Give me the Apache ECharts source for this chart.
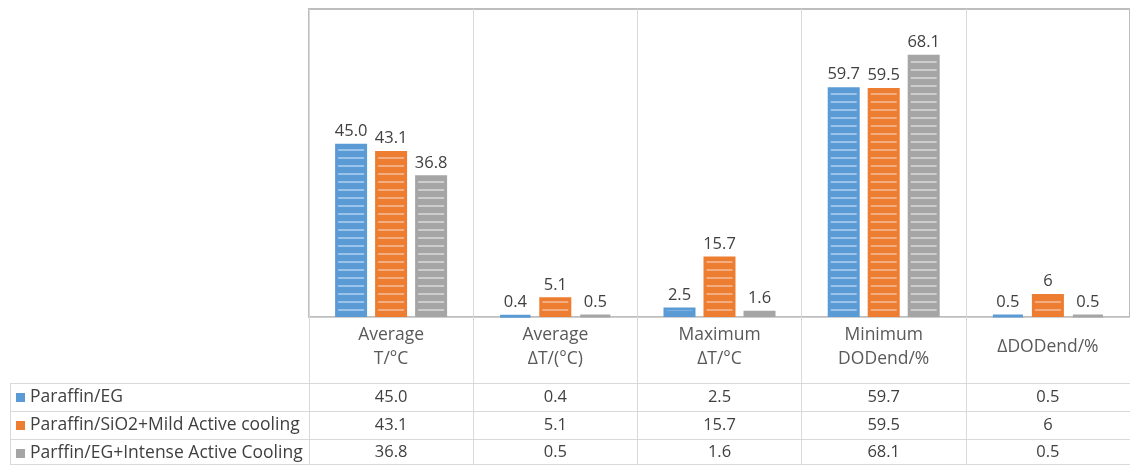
<!DOCTYPE html>
<html>
<head>
<meta charset="utf-8">
<script src="https://cdn.jsdelivr.net/npm/echarts@6/dist/echarts.min.js"></script>
<style>
  html, body { margin: 0; padding: 0; background: #ffffff; }
  #chart { width: 1130px; height: 465px; }
</style>
</head>
<body>
<div id="chart"></div>
<script>
// Categories shown along the axis and as the table header
const categories = ['Average\nT/°C', 'Average\nΔT/(°C)', 'Maximum\nΔT/°C', 'Minimum\nDODend/%', 'ΔDODend/%'];

// Series names (table row headers)
const seriesNames = [
  'Paraffin/EG',
  'Paraffin/SiO2+Mild Active cooling',
  'Parffin/EG+Intense Active Cooling'
];

// Values as printed in the data table
const paraffinEG       = ['45.0', '0.4', '2.5', '59.7', '0.5'];
const paraffinSiO2Mild = ['43.1', '5.1', '15.7', '59.5', '6'];
const parffinEGIntense = ['36.8', '0.5', '1.6', '68.1', '0.5'];

const tableRows = [paraffinEG, paraffinSiO2Mild, parffinEGIntense];
const baseColors   = ['#5B9BD5', '#ED7D31', '#A5A5A5'];
const stripeColors = ['#9CC4EA', '#F4AD80', '#CDCDCD'];

const FONT = '"Open Sans", "Noto Sans", sans-serif';
const WORD_SIZE = 17.5;
const NUM_SIZE = 16.5;

// Horizontal stripe fill used inside the bars
function stripePattern(base, light) {
  const c = document.createElement('canvas');
  c.width = 8; c.height = 8;
  const g = c.getContext('2d');
  g.fillStyle = base;
  g.fillRect(0, 0, 8, 8);
  g.fillStyle = light;
  g.fillRect(0, 5, 8, 2);
  return c;
}

const chart = echarts.init(document.getElementById('chart'), null, { renderer: 'canvas' });

// Table rows are drawn as extra category axes sharing the grid
const rowMargins = [80, 108, 135];
const rowAxes = tableRows.map((row, k) => ({
  type: 'category',
  data: categories,
  position: 'bottom',
  gridIndex: 0,
  axisLine: { show: false },
  axisTick: { show: false },
  splitLine: { show: false },
  axisLabel: {
    interval: 0,
    margin: rowMargins[k],
    verticalAlign: 'middle',
    color: '#404040',
    fontFamily: FONT,
    fontSize: NUM_SIZE,
    formatter: (v, i) => row[i]
  }
}));

const series = tableRows.map((row, k) => ({
  name: seriesNames[k],
  type: 'bar',
  xAxisIndex: 0,
  yAxisIndex: 0,
  barWidth: 32,
  barGap: '25%',
  data: row.map(s => parseFloat(s)),
  itemStyle: {
    color: { image: stripePattern(baseColors[k], stripeColors[k]), repeat: 'repeat' },
    borderColor: baseColors[k],
    borderWidth: 3
  },
  label: {
    show: true,
    position: 'top',
    distance: 4,
    color: '#404040',
    fontFamily: FONT,
    fontSize: NUM_SIZE,
    formatter: p => row[p.dataIndex]
  }
}));

// Legend column and row rules of the data table
const rowTops = [383, 411, 439];
const graphic = [];
rowTops.forEach((y, k) => {
  graphic.push({
    type: 'line', shape: { x1: 10, y1: y + 0.5, x2: 1130, y2: y + 0.5 },
    style: { stroke: '#d9d9d9', lineWidth: 1 }, silent: true
  });
  graphic.push({
    type: 'rect', shape: { x: 16, y: y + 10, width: 9, height: 9 },
    style: { fill: baseColors[k] }, silent: true
  });
  graphic.push({
    type: 'text', x: 30, y: y + 14,
    style: {
      text: seriesNames[k], fill: '#404040', font: WORD_SIZE + 'px ' + FONT,
      textVerticalAlign: 'middle', verticalAlign: 'middle'
    },
    silent: true
  });
});
graphic.push({
  type: 'line', shape: { x1: 10, y1: 464.5, x2: 1130, y2: 464.5 },
  style: { stroke: '#d9d9d9', lineWidth: 1 }, silent: true
});
graphic.push({
  type: 'line', shape: { x1: 10.5, y1: 383, x2: 10.5, y2: 465 },
  style: { stroke: '#d9d9d9', lineWidth: 1 }, silent: true
});

chart.setOption({
  animation: false,
  backgroundColor: '#ffffff',
  grid: {
    left: 309, top: 9, width: 830, height: 308,
    show: true, borderColor: '#bdbdbd', borderWidth: 2,
    containLabel: false
  },
  xAxis: [{
    type: 'category',
    data: categories,
    position: 'bottom',
    axisLine: { show: true, lineStyle: { color: '#cfcfcf', width: 1 } },
    axisTick: { show: true, length: 148, lineStyle: { color: '#d9d9d9' } },
    splitLine: { show: true, lineStyle: { color: '#d9d9d9' } },
    axisLabel: {
      interval: 0,
      margin: 30,
      verticalAlign: 'middle',
      lineHeight: 24,
      color: '#595959',
      fontFamily: FONT,
      fontSize: WORD_SIZE
    }
  }].concat(rowAxes),
  yAxis: {
    type: 'value',
    min: 0,
    max: 80,
    axisLine: { show: false },
    axisTick: { show: false },
    axisLabel: { show: false },
    splitLine: { show: false }
  },
  graphic: graphic,
  series: series
});
</script>
</body>
</html>
